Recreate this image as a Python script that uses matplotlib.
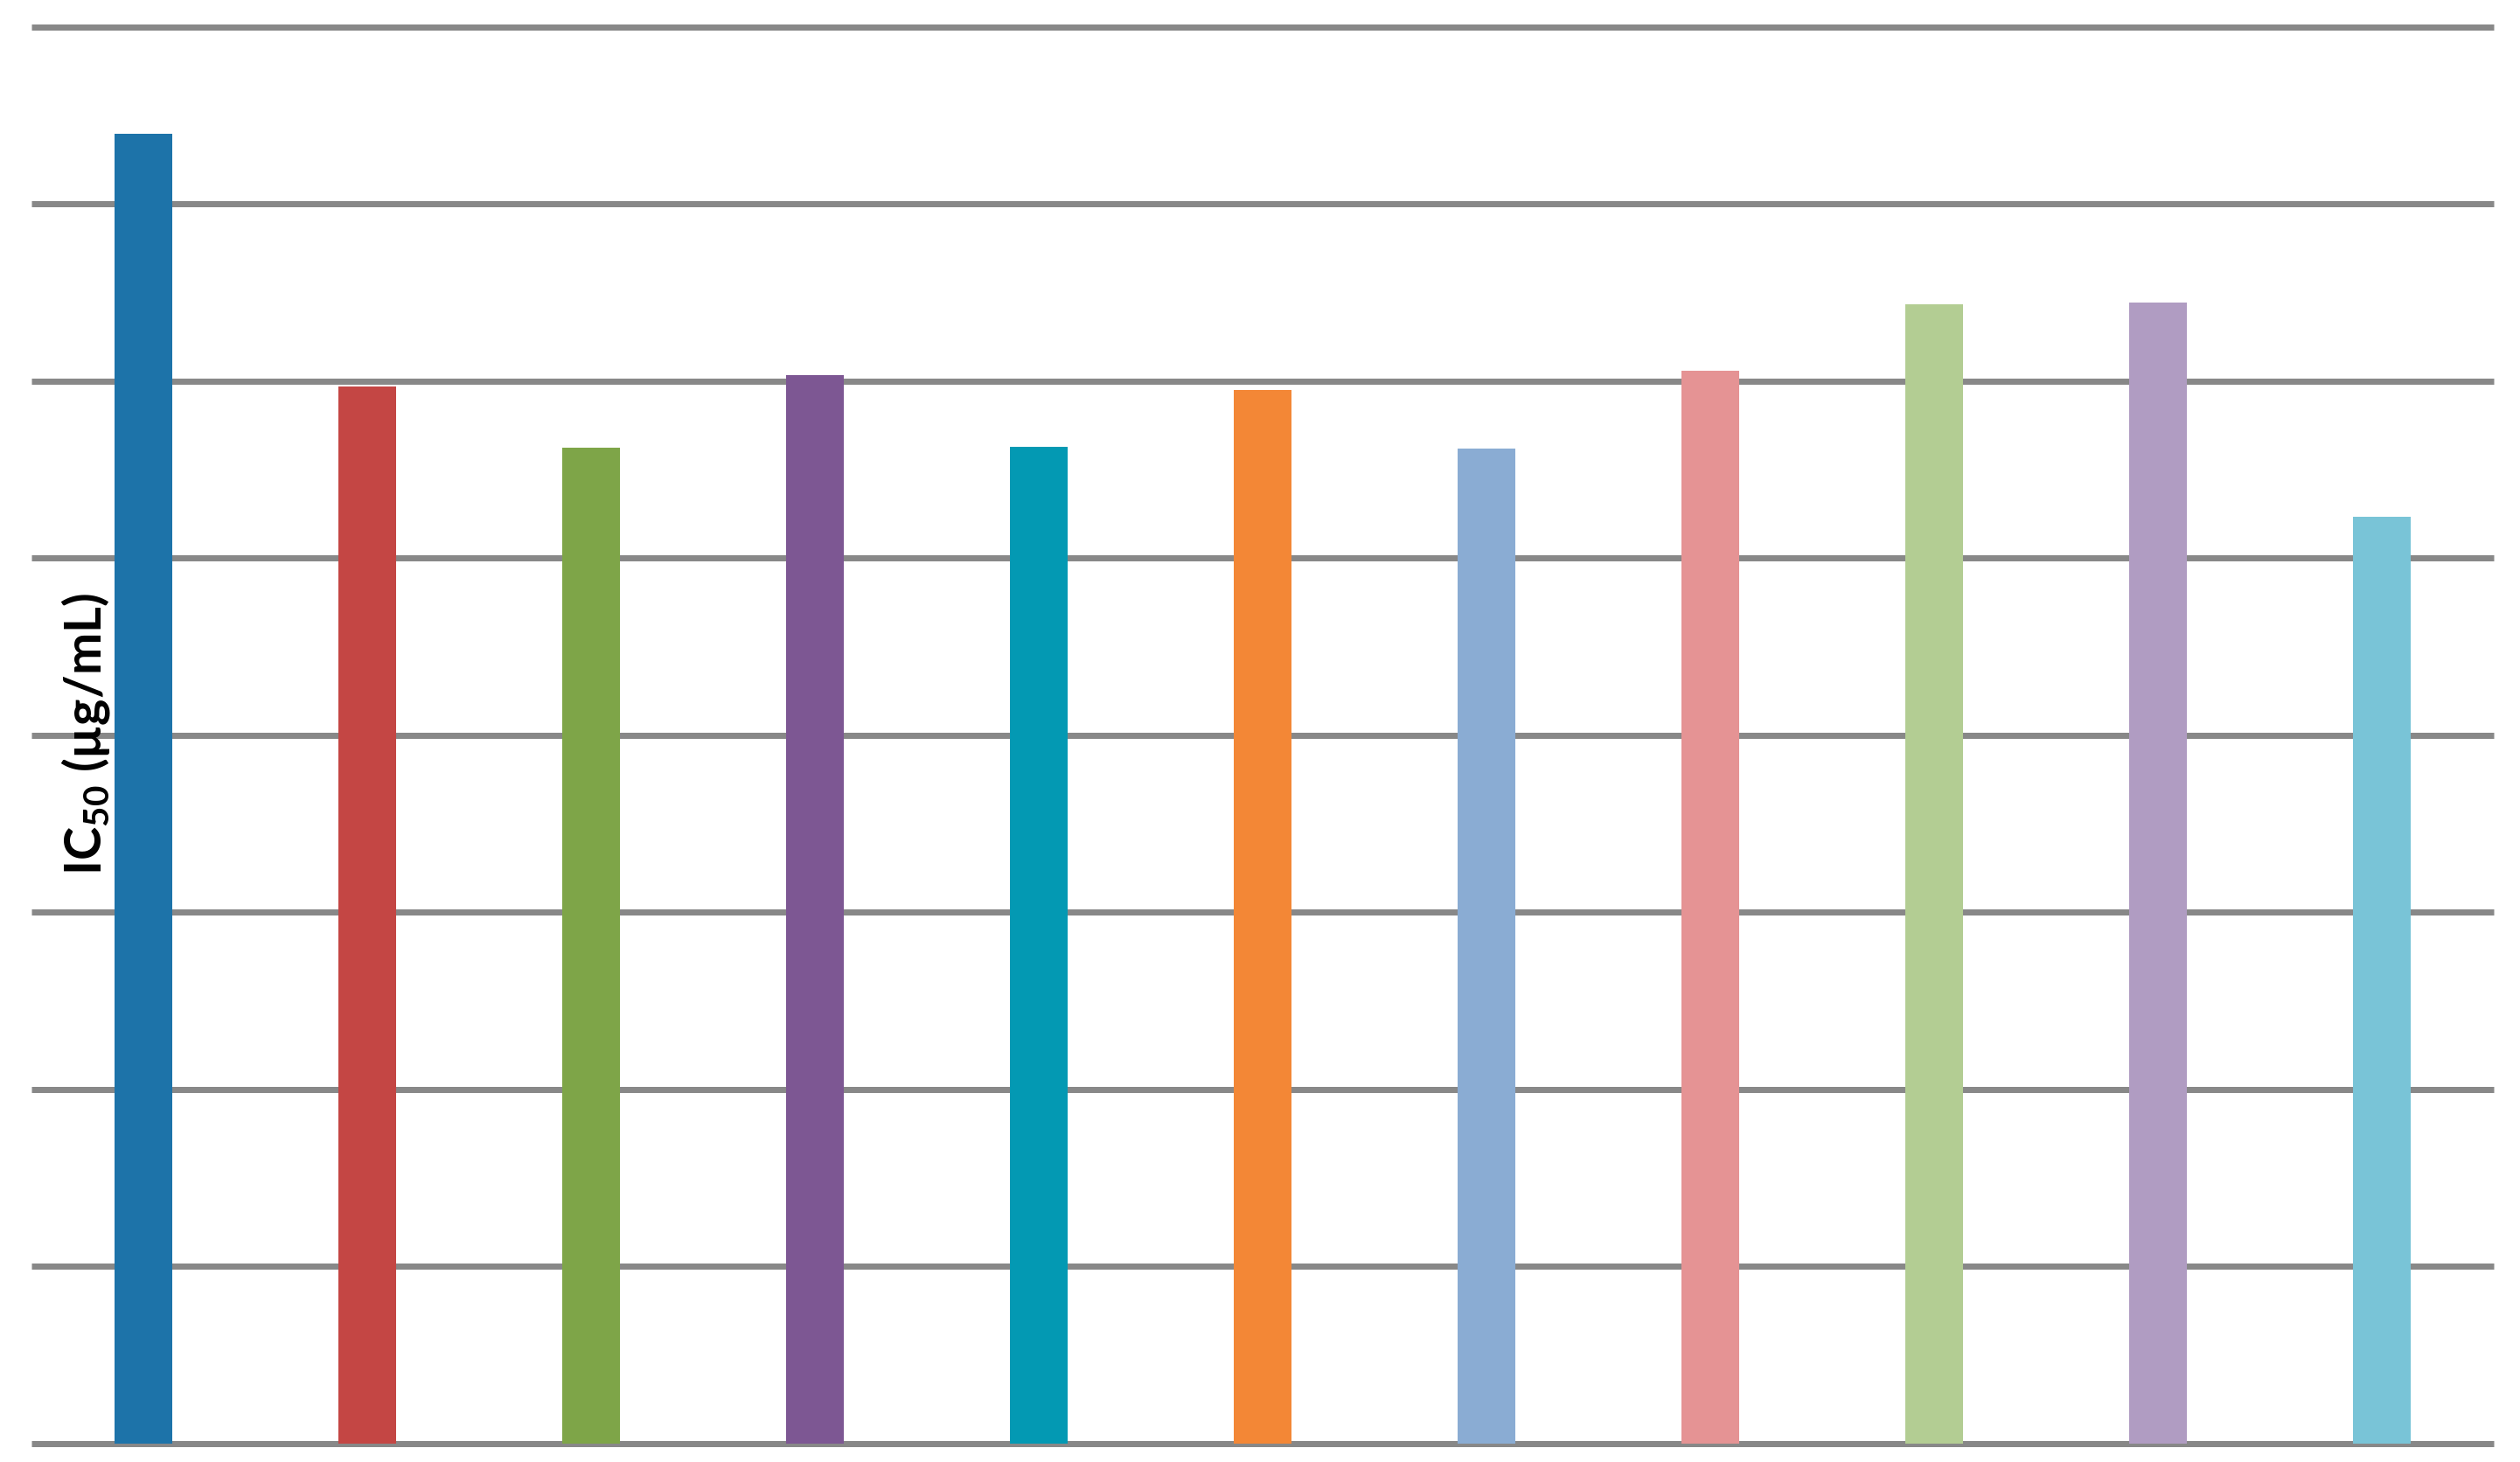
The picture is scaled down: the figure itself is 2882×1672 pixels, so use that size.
import matplotlib
matplotlib.use("Agg")
import matplotlib.pyplot as plt
import numpy as np

# IC50 values for the 11 samples (no tick labels in the original)
samples = ["S1", "S2", "S3", "S4", "S5", "S6", "S7", "S8", "S9", "S10", "S11"]
ic50 = [73.95, 59.68, 56.22, 60.32, 56.27, 59.48, 56.17, 60.57, 64.32, 64.42, 52.32]
bar_colors = ["#1D73A9", "#C44644", "#7EA548", "#7D5793", "#0399B3", "#F38736",
              "#8AACD3", "#E59394", "#B3CD93", "#B09CC2", "#79C4D7"]
grid_levels = [0, 10, 20, 30, 40, 50, 60, 70, 80]

plt.rcParams["mathtext.fontset"] = "custom"
plt.rcParams["mathtext.rm"] = "Lato"
plt.rcParams["mathtext.default"] = "regular"

W, H = 2882, 1672
fig = plt.figure(figsize=(W / 100, H / 100), dpi=100)
ax = fig.add_axes([36 / W, (H - 1650.5) / H, (2852 - 36) / W, (1650.5 - 30.5) / H])

x = np.arange(len(samples))

# horizontal gridlines, drawn under the bars
ax.hlines(grid_levels, -0.5, len(samples) - 0.5, colors="#888888",
          linewidth=5.04, zorder=0, clip_on=False, capstyle="butt")

ax.bar(x, ic50, width=0.254, color=bar_colors, zorder=2)

ax.set_xlim(-0.5, len(samples) - 0.5)
ax.set_ylim(0, 80)
ax.set_xticks([])
ax.set_yticks([])
for s in ax.spines.values():
    s.set_visible(False)

fig.text(98 / W, (H - 840) / H, "IC$_{50}$ (µg/mL)", rotation=90,
         ha="center", va="center", fontsize=41.5, fontweight="bold",
         family=["Lato", "DejaVu Sans"])

fig.savefig("out.png", dpi=100, facecolor="white")
